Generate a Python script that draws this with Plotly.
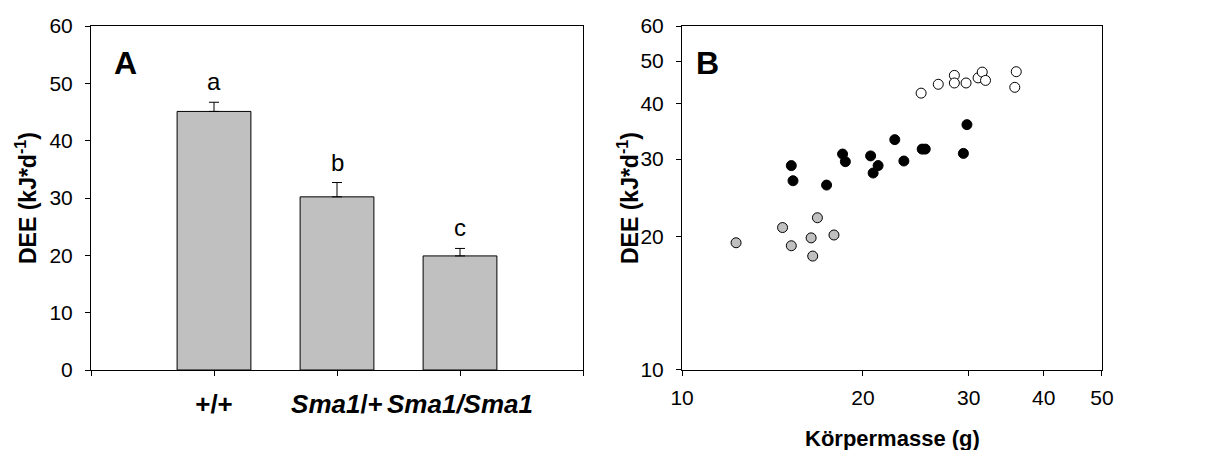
import plotly.graph_objects as go

# Panel A: daily energy expenditure by genotype (mean + SE)
genotypes = ["+/+", "Sma1/+", "Sma1/Sma1"]
genotype_labels = ["<b>+/+</b>", "<b><i>Sma1</i>/+</b>", "<b><i>Sma1/Sma1</i></b>"]
dee_mean = [45.1, 30.2, 19.9]
dee_se = [1.6, 2.5, 1.3]
sig_letters = ["a", "b", "c"]

# Panel B: DEE versus body mass per animal
mass_hom = [12.3, 14.7, 15.2, 16.4, 16.8, 16.5, 17.9]
dee_hom = [19.4, 21.0, 19.1, 19.9, 22.1, 18.1, 20.2]

mass_het = [15.2, 15.3, 17.4, 18.5, 18.7, 20.6, 21.2, 20.8, 22.6, 23.4, 25.1, 25.4, 29.4, 29.8]
dee_het = [29.0, 26.8, 26.2, 30.8, 29.6, 30.5, 29.0, 27.9, 33.2, 29.7, 31.6, 31.6, 30.9, 35.9]

mass_wt = [25.0, 26.7, 28.4, 28.4, 29.7, 31.1, 31.6, 32.0, 36.0, 35.8]
dee_wt = [42.3, 44.3, 46.4, 44.6, 44.6, 45.8, 47.2, 45.2, 47.3, 43.6]

y_ticks_a = [0, 10, 20, 30, 40, 50, 60]
x_ticks_b = [10, 20, 30, 40, 50]
y_ticks_b = [10, 20, 30, 40, 50, 60]

FONT = "Arial, Liberation Sans, Helvetica, sans-serif"
W, H = 1212, 450

fig = go.Figure()

fig.add_trace(go.Bar(
    x=list(range(len(genotypes))), y=dee_mean, width=0.6,
    marker=dict(color="#c0c0c0", line=dict(color="#000000", width=1)),
    error_y=dict(type="data", array=dee_se, arrayminus=[0] * len(dee_se),
                 symmetric=False, color="#000000", thickness=1, width=5),
    xaxis="x", yaxis="y", showlegend=False,
))

for xs, ys, fill in [(mass_hom, dee_hom, "#c0c0c0"),
                     (mass_het, dee_het, "#000000"),
                     (mass_wt, dee_wt, "#ffffff")]:
    fig.add_trace(go.Scatter(
        x=xs, y=ys, mode="markers",
        marker=dict(size=10, color=fill, line=dict(color="#000000", width=1)),
        xaxis="x2", yaxis="y2", showlegend=False,
    ))

axis_common = dict(showgrid=False, zeroline=False, showline=True, linecolor="#000000",
                   linewidth=1, mirror=True, ticks="outside", ticklen=5, tickwidth=1,
                   tickcolor="#000000", automargin=False, tickangle=0,
                   tickfont=dict(family=FONT, size=21, color="#000000"))

ydom = [1 - 370 / H, 1 - 26 / H]

fig.update_layout(
    template="none",
    width=W, height=H, autosize=False,
    margin=dict(l=0, r=0, t=0, b=0, pad=0),
    paper_bgcolor="#ffffff", plot_bgcolor="#ffffff",
    showlegend=False,
    xaxis=dict(axis_common, domain=[91 / W, 583 / W], range=[-1, 3],
               tickvals=[-1, 0, 1, 2, 3], ticktext=[" "] + genotype_labels + [" "],
               tickfont=dict(family=FONT, size=26, color="#000000"),
               ticklabelstandoff=6),
    yaxis=dict(axis_common, domain=ydom, range=[0, 60], tickvals=y_ticks_a,
               ticklabelstandoff=8),
    xaxis2=dict(axis_common, domain=[682 / W, 1102 / W], type="log",
                range=[0.9999, 1.69905], tickvals=x_ticks_b,
                ticklabelstandoff=4, anchor="y2"),
    yaxis2=dict(axis_common, domain=ydom, type="log",
                range=[0.9999, 1.77825], tickvals=y_ticks_b,
                ticklabelstandoff=8, anchor="x2"),
)

# Significance letters above each error bar
for i, (m, s, letter) in enumerate(zip(dee_mean, dee_se, sig_letters)):
    fig.add_annotation(x=i, y=m + s, xref="x", yref="y", text=letter, showarrow=False,
                       xanchor="center", yanchor="bottom", yshift=5,
                       font=dict(family=FONT, size=24, color="#000000"))

# Panel letters
for xp, letter in ((125 / W, "A"), (707 / W, "B")):
    fig.add_annotation(x=xp, y=1 - 63 / H, xref="paper", yref="paper",
                       text=f"<b>{letter}</b>", showarrow=False,
                       xanchor="center", yanchor="middle",
                       font=dict(family=FONT, size=32, color="#000000"))

# Axis titles
ytitle = "<b>DEE (kJ*d<sup>-1</sup>)</b>"
for xp in (26 / W, 628 / W):
    fig.add_annotation(x=xp, y=1 - 198 / H, xref="paper", yref="paper", text=ytitle,
                       textangle=-90, showarrow=False,
                       xanchor="center", yanchor="middle",
                       font=dict(family=FONT, size=23, color="#000000"))
fig.add_annotation(x=892 / W, y=1 - 438 / H, xref="paper", yref="paper",
                   text="<b>Körpermasse (g)</b>", showarrow=False,
                   xanchor="center", yanchor="middle",
                   font=dict(family=FONT, size=22, color="#000000"))

fig.write_html("out.html")
